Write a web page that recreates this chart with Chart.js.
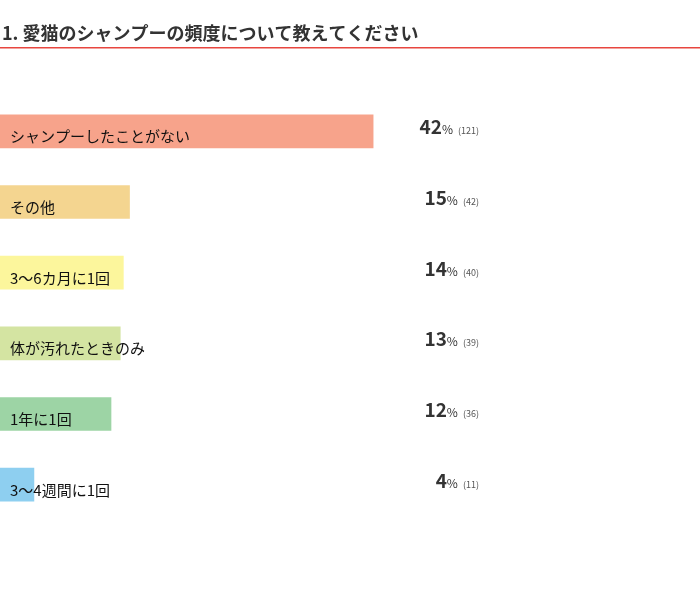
<!DOCTYPE html>
<html><head><meta charset="utf-8">
<script src="https://cdn.jsdelivr.net/npm/chart.js@4"></script>
<style>html,body{margin:0;padding:0;background:#fff}#w{width:700px;height:613px;position:relative}</style>
</head><body><div id="w"><canvas id="c"></canvas></div>
<script>
const titleText = "1. 愛猫のシャンプーの頻度について教えてください";
const categories = ["シャンプーしたことがない","その他","3〜6カ月に1回","体が汚れたときのみ","1年に1回","3〜4週間に1回"];
const percents = [42,15,14,13,12,4];
const counts = [121,42,40,39,36,11];
const colors = ["#F7A38B","#F4D590","#FCF69C","#D4E4A2","#9DD4A5","#8ECFF0"];
const F = "'Noto Sans CJK JP','Noto Sans',sans-serif";
const deco = {
  id:'deco',
  afterDatasetsDraw(chart){
    const ctx = chart.ctx, meta = chart.getDatasetMeta(0);
    ctx.save();
    ctx.fillStyle = '#333'; ctx.font = 'bold 18px '+F; ctx.textBaseline='alphabetic';
    ctx.fillText(titleText, 2, 40);
    ctx.fillStyle = '#E8463F'; ctx.fillRect(0, 47, 700, 1.5);
    meta.data.forEach((bar,i)=>{
      const y = bar.y;
      ctx.fillStyle = '#111'; ctx.font = '15px '+F; ctx.textAlign='left';
      ctx.fillText(categories[i], 10, y + 11);
      // right group
      const right = 479;
      ctx.font = '9px '+F; const cs = '('+counts[i]+')'; const cw = ctx.measureText(cs).width;
      ctx.fillStyle = '#555'; ctx.fillText(cs, right - cw, y + 3);
      let x = right - cw - 5;
      ctx.font = '12px '+F; const pw = ctx.measureText('%').width;
      ctx.fillStyle = '#333'; ctx.fillText('%', x - pw, y + 3); x -= pw;
      ctx.font = 'bold 19px '+F; const nw = ctx.measureText(String(percents[i])).width;
      ctx.fillText(String(percents[i]), x - nw, y + 3);
    });
    ctx.restore();
  }
};
new Chart(document.getElementById('c'), {
  type:'bar',
  data:{labels:categories, datasets:[{data:counts, backgroundColor:colors, barThickness:33, borderWidth:0}]},
  options:{
    indexAxis:'y', responsive:true, maintainAspectRatio:false, animation:false,
    layout:{padding:{top:96,bottom:93,left:0,right:0}},
    plugins:{legend:{display:false},tooltip:{enabled:false}},
    scales:{x:{display:false,min:0,max:227},y:{display:false}}
  },
  plugins:[deco]
});
</script></body></html>
